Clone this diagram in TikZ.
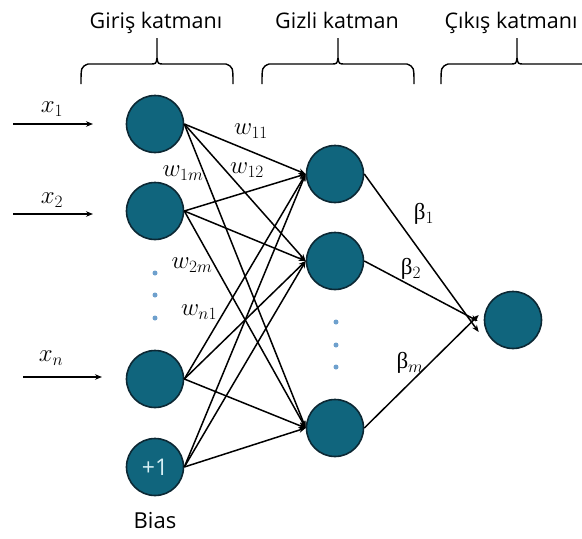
\documentclass[tikz,border=0pt]{standalone}
\usepackage{fontspec}
\setmainfont{Open Sans}
\newfontfamily\grfont{Liberation Serif}
\usetikzlibrary{arrows.meta}
\definecolor{neuronfill}{RGB}{16,101,125}
\definecolor{neuronrim}{RGB}{12,40,52}
\definecolor{dotblue}{RGB}{110,160,205}
\definecolor{plustext}{RGB}{215,240,245}

\tikzset{
  neuron/.style={circle,fill=neuronfill,draw=neuronrim,line width=1.6pt,
                 minimum size=57pt,inner sep=0pt},
  link/.style={-{Stealth[length=7pt,width=5.5pt]},line width=1.5pt},
  wlab/.style={font=\fontsize{25}{28}\selectfont,inner sep=0pt},
  blab/.style={font=\fontsize{23}{26}\selectfont,inner sep=0pt},
  title/.style={font=\fontsize{21.5}{24}\selectfont,inner sep=0pt,anchor=base},
  vdot/.style={circle,fill=dotblue,inner sep=0pt,minimum size=5pt},
  layerbrace/.pic={
    \draw[line width=1.4pt] (-76,20) .. controls (-76,3) .. (-69,0) -- (-7,0)
        .. controls (-1,0) .. (0,-6) -- (0,-26);
    \draw[line width=1.4pt] (76,20) .. controls (76,3) .. (69,0) -- (7,0)
        .. controls (1,0) .. (0,-6);
  }
}

\begin{document}
\begin{tikzpicture}[x=1pt,y=-1pt]
\clip (0,0) rectangle (582,539);
\fill[white] (0,0) rectangle (582,539);

% layer titles and braces
\node[title] (tin)  at (156,28) {Giriş katmanı};
\node[title] (thid) at (337,28) {Gizli katman};
\node[title] (tout) at (511,28) {Çıkış katmanı};
\pic at (157,64) {layerbrace};
\pic at (338,64) {layerbrace};
\pic at (517,64) {layerbrace};

% input layer
\node[neuron] (i1) at (155,124) {};
\node[neuron] (i2) at (155,211) {};
\node[neuron] (in) at (155,379) {};
\node[neuron,text=plustext,font=\fontsize{23}{26}\selectfont] (ib) at (155,467) {+1};
\node[font=\fontsize{22}{24}\selectfont] (bias) at (155,521) {Bias};
\node[vdot] (d1) at (155,273) {};
\node[vdot] (d2) at (155,295) {};
\node[vdot] (d3) at (155,318) {};

% hidden layer
\node[neuron] (h1) at (335,174) {};
\node[neuron] (h2) at (335,261) {};
\node[neuron] (hm) at (335,428) {};
\node[vdot] (e1) at (336,322) {};
\node[vdot] (e2) at (336,345) {};
\node[vdot] (e3) at (336,367) {};

% output layer
\node[neuron] (o) at (513,320) {};

% external inputs
\coordinate (s1) at (13,124);  \coordinate (t1) at (93,124);
\coordinate (s2) at (13,214);  \coordinate (t2) at (93,214);
\coordinate (sn) at (23,377);  \coordinate (tn) at (102,377);
\draw[link] (s1) -- (t1);
\draw[link] (s2) -- (t2);
\draw[link] (sn) -- (tn);
\node[wlab] (x1) at (52,109) {$x_1$};
\node[wlab] (x2) at (52,200) {$x_2$};
\node[wlab] (xn) at (51,358) {$x_n$};

% input -> hidden connections
\foreach \a in {i1,i2,in,ib}
  \foreach \b in {h1,h2,hm}
    \draw[link] (\a.east) -- (\b.west);

% hidden -> output connections
\draw[link] (h1.east) -- ([xshift=-5pt,yshift=-12pt]o.west);
\draw[link] (h2.east) -- ([xshift=-6pt,yshift=-1pt]o.west);
\draw[link] (hm.east) -- ([xshift=-5pt,yshift=5pt]o.west);

% weight labels
\node[wlab] (w11) at (251,131) {$w_{11}$};
\node[wlab] (w12) at (247,170) {$w_{12}$};
\node[wlab] (w1m) at (183,173) {$w_{1m}$};
\node[wlab] (w2m) at (192,265) {$w_{2m}$};
\node[wlab] (wn1) at (199,312) {$w_{n1}$};
\node[blab] (b1) at (424,214) {{\grfont β}$_1$};
\node[blab] (b2) at (411,269) {{\grfont β}$_2$};
\node[blab] (bm) at (410,363) {{\grfont β}$_m$};
\end{tikzpicture}
\end{document}
